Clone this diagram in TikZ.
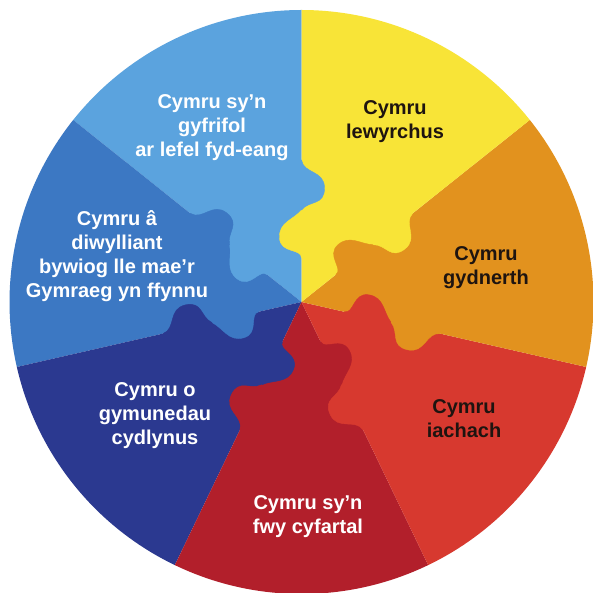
\documentclass[tikz,border=0pt]{standalone}
\usepackage{fontspec}
\setsansfont{Liberation Sans}

\definecolor{bluelight}{HTML}{5BA3DE}
\definecolor{bluemid}{HTML}{3C78C3}
\definecolor{bluenavy}{HTML}{2B3990}
\definecolor{reddark}{HTML}{B21F2B}
\definecolor{redbright}{HTML}{D7392F}
\definecolor{orangewarm}{HTML}{E2921E}
\definecolor{yellowsun}{HTML}{F8E437}
\definecolor{textdark}{HTML}{1E1410}

\begin{document}
\begin{tikzpicture}[x=1pt,y=1pt,
    txt/.style={font=\sffamily\bfseries\fontsize{20}{24}\selectfont,align=center,inner sep=0pt},
    lobe/.style={line width=0.4pt}]
      \useasboundingbox (0,0) rectangle (593,592);
      \clip (0,0) rectangle (593,592);
      \fill[white] (0,0) rectangle (593,592);

      \coordinate (hub) at (301.5,290);

      % the seven wedges
      \fill[bluelight] (hub) -- ++(90:292) arc[start angle=90,end angle=141.43,radius=292] -- cycle;
      \fill[bluemid] (hub) -- ++(141.43:292) arc[start angle=141.43,end angle=192.86,radius=292] -- cycle;
      \fill[bluenavy] (hub) -- ++(192.86:292) arc[start angle=192.86,end angle=244.29,radius=292] -- cycle;
      \fill[reddark] (hub) -- ++(244.29:292) arc[start angle=244.29,end angle=295.71,radius=292] -- cycle;
      \fill[redbright] (hub) -- ++(295.71:292) arc[start angle=295.71,end angle=347.14,radius=292] -- cycle;
      \fill[orangewarm] (hub) -- ++(347.14:292) arc[start angle=347.14,end angle=398.57,radius=292] -- cycle;
      \fill[yellowsun] (hub) -- ++(38.57:292) arc[start angle=38.57,end angle=90,radius=292] -- cycle;

      % puzzle tabs, one pair on every seam
      \begin{scope}[shift={(hub)},rotate=90]
        \filldraw[yellowsun,lobe] (44,-1.5) -- (44,0) .. controls (54,0) and (48,21) .. (64,22) .. controls (80,23) and (82,8) .. (92,0) -- (92,-1.5) -- cycle;
        \filldraw[bluelight,lobe] (92,1.5) -- (92,0) .. controls (102,-8) and (96,-23) .. (114,-23) .. controls (132,-23) and (128,-2) .. (142,0) -- (142,1.5) -- cycle;
      \end{scope}
      \begin{scope}[shift={(hub)},rotate=141.43]
        \filldraw[bluelight,lobe] (44,-1.5) -- (44,0) .. controls (54,0) and (48,21) .. (64,22) .. controls (80,23) and (82,8) .. (92,0) -- (92,-1.5) -- cycle;
        \filldraw[bluemid,lobe] (92,1.5) -- (92,0) .. controls (102,-8) and (96,-23) .. (114,-23) .. controls (132,-23) and (128,-2) .. (142,0) -- (142,1.5) -- cycle;
      \end{scope}
      \begin{scope}[shift={(hub)},rotate=192.86]
        \filldraw[bluemid,lobe] (44,-1.5) -- (44,0) .. controls (54,0) and (48,21) .. (64,22) .. controls (80,23) and (82,8) .. (92,0) -- (92,-1.5) -- cycle;
        \filldraw[bluenavy,lobe] (92,1.5) -- (92,0) .. controls (102,-8) and (96,-23) .. (114,-23) .. controls (132,-23) and (128,-2) .. (142,0) -- (142,1.5) -- cycle;
      \end{scope}
      \begin{scope}[shift={(hub)},rotate=244.29]
        \filldraw[bluenavy,lobe] (44,-1.5) -- (44,0) .. controls (54,0) and (48,21) .. (64,22) .. controls (80,23) and (82,8) .. (92,0) -- (92,-1.5) -- cycle;
        \filldraw[reddark,lobe] (92,1.5) -- (92,0) .. controls (102,-8) and (96,-23) .. (114,-23) .. controls (132,-23) and (128,-2) .. (142,0) -- (142,1.5) -- cycle;
      \end{scope}
      \begin{scope}[shift={(hub)},rotate=295.71]
        \filldraw[reddark,lobe] (44,-1.5) -- (44,0) .. controls (54,0) and (48,21) .. (64,22) .. controls (80,23) and (82,8) .. (92,0) -- (92,-1.5) -- cycle;
        \filldraw[redbright,lobe] (92,1.5) -- (92,0) .. controls (102,-8) and (96,-23) .. (114,-23) .. controls (132,-23) and (128,-2) .. (142,0) -- (142,1.5) -- cycle;
      \end{scope}
      \begin{scope}[shift={(hub)},rotate=347.14]
        \filldraw[redbright,lobe] (44,-1.5) -- (44,0) .. controls (54,0) and (48,21) .. (64,22) .. controls (80,23) and (82,8) .. (92,0) -- (92,-1.5) -- cycle;
        \filldraw[orangewarm,lobe] (92,1.5) -- (92,0) .. controls (102,-8) and (96,-23) .. (114,-23) .. controls (132,-23) and (128,-2) .. (142,0) -- (142,1.5) -- cycle;
      \end{scope}
      \begin{scope}[shift={(hub)},rotate=38.57]
        \filldraw[orangewarm,lobe] (44,-1.5) -- (44,0) .. controls (54,0) and (48,21) .. (64,22) .. controls (80,23) and (82,8) .. (92,0) -- (92,-1.5) -- cycle;
        \filldraw[yellowsun,lobe] (92,1.5) -- (92,0) .. controls (102,-8) and (96,-23) .. (114,-23) .. controls (132,-23) and (128,-2) .. (142,0) -- (142,1.5) -- cycle;
      \end{scope}

      % labels
      \node[txt,white] (cyfrifol) at (212,464) {Cymru sy’n\\gyfrifol\\ar lefel fyd-eang};
      \node[txt,textdark] (llewyrchus) at (395,470) {Cymru\\lewyrchus};
      \node[txt,textdark] (cydnerth) at (486,324) {Cymru\\gydnerth};
      \node[txt,textdark] (iachach) at (464,173) {Cymru\\iachach};
      \node[txt,white] (cyfartal) at (308,75) {Cymru sy’n\\fwy cyfartal};
      \node[txt,white] (cydlynus) at (155,176) {Cymru o\\gymunedau\\cydlynus};
      \node[txt,white] (diwylliant) at (117,336) {Cymru â\\diwylliant\\bywiog lle mae’r\\Gymraeg yn ffynnu};
    \end{tikzpicture}
\end{document}
